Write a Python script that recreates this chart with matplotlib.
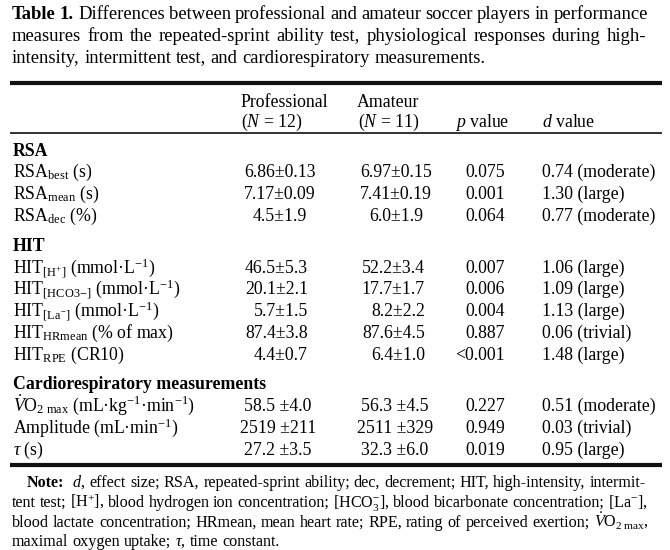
import math
import matplotlib
matplotlib.use("Agg")
import matplotlib.pyplot as plt
from matplotlib.font_manager import FontProperties

plt.rcParams['font.family'] = ['Liberation Serif', 'DejaVu Serif']
plt.rcParams['mathtext.fontset'] = 'custom'
plt.rcParams['mathtext.rm'] = 'Liberation Serif'
plt.rcParams['mathtext.it'] = 'Liberation Serif:italic'
plt.rcParams['mathtext.bf'] = 'Liberation Serif:bold'

# ---- table content ----
title_lines = [
    "Differences between professional and amateur soccer players in performance",
    "measures from the repeated-sprint ability test, physiological responses during high-",
    "intensity, intermittent test, and cardiorespiratory measurements.",
]
col_heads = [("Professional", "($N$ = 12)"), ("Amateur", "($N$ = 11)"), ("$p$ value", ""), ("$d$ value", "")]

rsa_labels = [r"RSA$_{\mathrm{best}}$ (s)", r"RSA$_{\mathrm{mean}}$ (s)", r"RSA$_{\mathrm{dec}}$ (%)"]
rsa_prof = ["6.86±0.13", "7.17±0.09", "4.5±1.9"]
rsa_amat = ["6.97±0.15", "7.41±0.19", "6.0±1.9"]
rsa_p = ["0.075", "0.001", "0.064"]
rsa_d = ["0.74 (moderate)", "1.30 (large)", "0.77 (moderate)"]

hit_labels = [r"HIT$_{[\mathrm{H}^{+}]}$ (mmol·L$^{-1}$)",
              r"HIT$_{[\mathrm{HCO3}{-}]}$ (mmol·L$^{-1}$)",
              r"HIT$_{[\mathrm{La}^{-}]}$ (mmol·L$^{-1}$)",
              r"HIT$_{\mathrm{HRmean}}$ (% of max)",
              r"HIT$_{\mathrm{RPE}}$ (CR10)"]
hit_prof = ["46.5±5.3", "20.1±2.1", "5.7±1.5", "87.4±3.8", "4.4±0.7"]
hit_amat = ["52.2±3.4", "17.7±1.7", "8.2±2.2", "87.6±4.5", "6.4±1.0"]
hit_p = ["0.007", "0.006", "0.004", "0.887", "<0.001"]
hit_d = ["1.06 (large)", "1.09 (large)", "1.13 (large)", "0.06 (trivial)", "1.48 (large)"]

cr_labels = [r"$\dot{V}$O$_{2\ \mathrm{max}}$ (mL·kg$^{-1}$·min$^{-1}$)",
             r"Amplitude (mL·min$^{-1}$)",
             r"$\tau$ (s)"]
cr_prof = ["58.5 ±4.0", "2519 ±211", "27.2 ±3.5"]
cr_amat = ["56.3 ±4.5", "2511 ±329", "32.3 ±6.0"]
cr_p = ["0.227", "0.949", "0.019"]
cr_d = ["0.51 (moderate)", "0.03 (trivial)", "0.95 (large)"]

note_lines = [
    r"$d$, effect size; RSA, repeated-sprint ability; dec, decrement; HIT, high-intensity, intermit-",
    r"tent test; [H$^{+}$], blood hydrogen ion concentration; [HCO$_{3}^{-}$], blood bicarbonate concentration; [La$^{-}$],",
    r"blood lactate concentration; HRmean, mean heart rate; RPE, rating of perceived exertion; $\dot{V}$O$_{2\;\mathrm{max}}$,",
    r"maximal oxygen uptake; $\tau$, time constant.",
]

fig = plt.figure(figsize=(6.7, 5.5), dpi=100)
ax = fig.add_axes([0, 0, 1, 1])
ax.set_xlim(0, 670)
ax.set_ylim(550, 0)
ax.axis('off')
renderer = fig.canvas.get_renderer()

BODY = 12.8
TITLE = 13.4
NOTE = 11.6


def snap(s, row, size, weight='normal'):
    # Agg rounds the bottom of each text bitmap, so shift plain texts
    # a fraction so that all baselines land on the same pixel row
    if '$' in s:
        return row
    fp = FontProperties(family=plt.rcParams['font.family'], size=size, weight=weight)
    w, h, d = renderer.get_text_width_height_descent(s, fp, ismath=False)
    a = h - d
    return row + math.floor(a + d) - math.floor(a) - d


def cell(x, row, s, size=BODY, weight='normal', ha='left'):
    return ax.text(x, snap(s, row, size, weight), s, fontsize=size,
                   fontweight=weight, va='baseline', ha=ha)


def put_line(words, x0, x1, row, size, justify=True):
    # words: list of (text, weight); spread them between x0 and x1
    objs = [cell(x0, row, w, size, wt) for w, wt in words]
    widths = [o.get_window_extent(renderer).width for o in objs]
    if justify and len(objs) > 1:
        gap = (x1 - x0 - sum(widths)) / (len(objs) - 1)
    else:
        gap = size * 100 / 72 * 0.25
    x = x0
    for o, w in zip(objs, widths):
        o.set_x(x)
        x += w + gap


plain = lambda line: [(w, 'normal') for w in line.split()]

# title
t_y = [19, 41, 63]
put_line([("Table", 'bold'), ("1.", 'bold')] + plain(title_lines[0]), 12, 648, t_y[0], TITLE)
put_line(plain(title_lines[1]), 12, 646, t_y[1], TITLE)
put_line(plain(title_lines[2]), 12, 646, t_y[2], TITLE, justify=False)

# rules
ax.hlines(82.5, 10, 662, color='#111111', lw=3.0)
ax.hlines(132.5, 10, 662, color='#111111', lw=1.2)
ax.hlines(464.5, 10, 662, color='#111111', lw=3.0)

# column header
cell(240, 107, col_heads[0][0])
cell(241, 127, col_heads[0][1])
cell(357, 107, col_heads[1][0])
cell(358, 127, col_heads[1][1])
cell(455, 127, col_heads[2][0])
cell(542, 127, col_heads[3][0])

sections = [
    ("RSA", 156, [177, 199, 221], rsa_labels, rsa_prof, rsa_amat, rsa_p, rsa_d, 'center', (280, 396)),
    ("HIT", 251, [273, 294, 316, 338, 360], hit_labels, hit_prof, hit_amat, hit_p, hit_d, 'right', (308, 425)),
    ("Cardiorespiratory measurements", 389, [411, 433, 455], cr_labels, cr_prof, cr_amat, cr_p, cr_d, 'center', (278, 395)),
]
for name, hy, rows, labs, prof, amat, pv, dv, ha, xs in sections:
    cell(13, hy, name, weight='bold')
    for y, lab, a, b, p, d in zip(rows, labs, prof, amat, pv, dv):
        cell(13, y, lab)
        cell(xs[0], y, a, ha=ha)
        cell(xs[1], y, b, ha=ha)
        cell(505, y, p, ha='right')
        cell(542, y, d)

# note
n_y = [487, 507, 527, 546]
nb = cell(27, n_y[0], "Note:", NOTE, 'bold')
put_line(plain(note_lines[0]), 27 + nb.get_window_extent(renderer).width + 8, 646, n_y[0], NOTE)
put_line(plain(note_lines[1]), 12, 648, n_y[1], NOTE)
put_line(plain(note_lines[2]), 12, 648, n_y[2], NOTE)
put_line(plain(note_lines[3]), 12, 648, n_y[3], NOTE, justify=False)

fig.savefig("out.png", dpi=100)
